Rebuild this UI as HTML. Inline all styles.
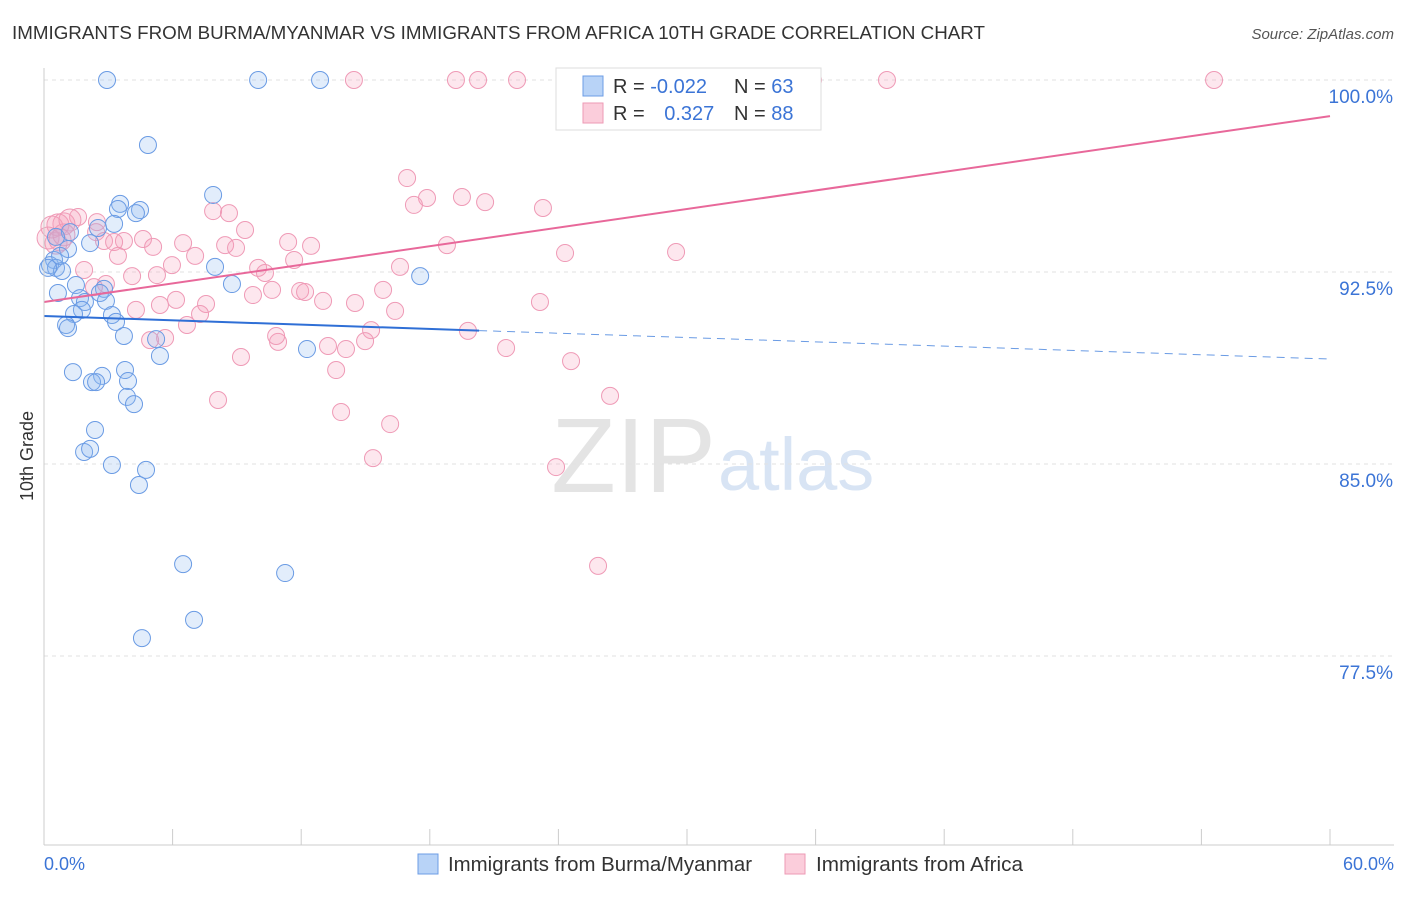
<!DOCTYPE html>
<html><head><meta charset="utf-8"><style>
body{margin:0;background:#fff;font-family:"Liberation Sans",sans-serif;}
svg text{font-family:"Liberation Sans",sans-serif;}
</style></head><body>
<svg id="c" width="1406" height="892" viewBox="0 0 1406 892">
<text x="12" y="39" font-size="18" fill="#333" textLength="973" lengthAdjust="spacingAndGlyphs">IMMIGRANTS FROM BURMA/MYANMAR VS IMMIGRANTS FROM AFRICA 10TH GRADE CORRELATION CHART</text>
<text x="1394" y="39" font-size="15" fill="#555" text-anchor="end" font-style="italic">Source: ZipAtlas.com</text>
<text x="716" y="492" font-size="106" fill="#e4e4e4" text-anchor="end" font-family="Liberation Serif">ZIP</text>
<text x="718" y="490" font-size="74" fill="#d8e4f4">atlas</text>
<g id="grid"></g><g id="pts"></g><g id="lines"></g>
<line x1="44" y1="68" x2="44" y2="845" stroke="#ccc"/>
<line x1="44" y1="845" x2="1394" y2="845" stroke="#ccc"/>
<text x="33" y="456" font-size="18" fill="#333" transform="rotate(-90 33 456)" text-anchor="middle">10th Grade</text>
<text x="44" y="870" font-size="18" fill="#3b74d6">0.0%</text>
<text x="1394" y="870" font-size="18" fill="#3b74d6" text-anchor="end">60.0%</text>
<g>
<rect x="556" y="68" width="265" height="62" fill="#fff" stroke="#ddd"/>
<rect x="583" y="76" width="20" height="20" fill="#b8d3f7" stroke="#6c9de6"/>
<rect x="583" y="103" width="20" height="20" fill="#fbcddb" stroke="#ee9ab5"/>
<text x="613" y="93" font-size="20" fill="#333">R = <tspan fill="#3b74d6">-0.022</tspan></text>
<text x="734" y="93" font-size="20" fill="#333">N = <tspan fill="#3b74d6">63</tspan></text>
<text x="613" y="120" font-size="20" fill="#333">R = <tspan fill="#3b74d6" dx="14">0.327</tspan></text>
<text x="734" y="120" font-size="20" fill="#333">N = <tspan fill="#3b74d6">88</tspan></text>
</g>
<g>
<rect x="418" y="854" width="20" height="20" fill="#b8d3f7" stroke="#6c9de6"/>
<text x="448" y="871" font-size="20" fill="#333" textLength="304" lengthAdjust="spacingAndGlyphs">Immigrants from Burma/Myanmar</text>
<rect x="785" y="854" width="20" height="20" fill="#fbcddb" stroke="#ee9ab5"/>
<text x="816" y="871" font-size="20" fill="#333" textLength="207" lengthAdjust="spacingAndGlyphs">Immigrants from Africa</text>
</g>
</svg>
<script>
const yTicks=[100,92.5,85,77.5];
const yTickLabels=["100.0%","92.5%","85.0%","77.5%"];
const xTicks=[0,6,12,18,24,30,36,42,48,54,60];
const blueX=[2.94,9.99,12.88,4.85,7.89,3.55,3.45,4.48,4.29,3.27,2.52,1.21,0.56,2.15,1.12,0.47,0.28,0.56,0.84,7.98,17.55,8.77,1.49,0.65,2.8,2.61,1.68,2.89,1.91,1.77,1.4,3.17,3.36,1.03,1.12,3.73,5.23,5.41,12.27,1.35,3.78,2.71,3.92,2.24,2.43,3.87,4.2,2.38,1.87,2.15,3.17,4.76,4.43,6.49,11.25,7.0,4.57,0.19,0.75];
const blueY=[100,100,100,97.46,95.51,95.16,94.96,94.92,94.8,94.38,94.22,94.06,93.87,93.63,93.4,92.97,92.77,92.66,92.54,92.7,92.34,92.03,91.99,91.68,91.84,91.68,91.48,91.37,91.33,91.02,90.86,90.82,90.55,90.43,90.31,90.0,89.88,89.22,89.49,88.59,88.67,88.44,88.24,88.2,88.2,87.62,87.34,86.33,85.47,85.59,84.96,84.77,84.18,81.09,80.74,78.91,78.2,92.66,93.13];
const pinkX=[14.46,19.22,20.25,22.07,24.78,35.88,39.33,54.59,16.94,19.5,17.87,20.58,17.26,23.28,7.89,8.63,2.47,1.59,0.93,0.37,9.38,2.43,0.56,2.8,3.73,3.27,4.62,6.49,5.09,8.45,8.96,11.39,12.46,18.8,24.31,29.49,3.45,7.05,5.97,9.99,10.31,16.61,11.67,1.87,4.11,5.27,2.89,2.33,11.95,12.18,10.64,9.75,15.82,6.16,13.02,14.51,23.14,5.41,7.56,16.38,4.29,7.28,6.67,4.95,5.65,10.92,10.83,19.78,15.26,13.25,14.09,14.98,21.56,24.59,9.19,13.63,8.12,26.41,13.86,16.15,15.35,23.89,25.85,0.65,1.21,0.19,0.75,0.93];
const pinkY=[100,100,100,100,100,100,100,100,96.17,95.43,95.39,95.23,95.12,95.0,94.88,94.8,94.45,94.65,94.38,94.26,94.14,94.06,93.63,93.71,93.71,93.67,93.79,93.63,93.48,93.55,93.44,93.67,93.52,93.55,93.24,93.28,93.13,93.13,92.77,92.66,92.46,92.7,92.97,92.58,92.34,92.38,92.03,91.91,91.76,91.72,91.8,91.6,91.8,91.41,91.37,91.29,91.33,91.21,91.25,90.98,91.02,90.86,90.43,89.84,89.92,89.77,90.0,90.2,90.23,89.61,89.49,89.8,89.53,89.02,89.18,88.67,87.5,87.66,87.03,86.56,85.23,84.88,81.02,94.34,94.53,93.83,93.75,93.95];
const blueTrend=[90.78,89.1];
const pinkTrend=[91.33,98.59];
const NS="http://www.w3.org/2000/svg";
const xs=v=>44+v/60*1286, ys=v=>80+(100-v)*25.6;
function mk(t,a,p){const e=document.createElementNS(NS,t);for(const k in a)e.setAttribute(k,a[k]);p.appendChild(e);return e;}
const grid=document.getElementById('grid');
yTicks.forEach((t,i)=>{
 const l=mk('line',{x1:44,x2:1394,y1:ys(t),y2:ys(t),stroke:'#e2e2e2','stroke-dasharray':'4 4'},grid);
 
 
 const tx=mk('text',{x:1393,y:ys(t)+23,'font-size':19,fill:'#3b74d6','text-anchor':'end'},grid);
 tx.textContent=yTickLabels[i];
 
 
});
xTicks.forEach(t=>{
 const l=mk('line',{x1:xs(t),x2:xs(t),y1:829,y2:845,stroke:'#ccc'},grid);
 
 
});
const pts=document.getElementById('pts');
pinkX.forEach((x,i)=>{
 const c=mk('circle',{cx:xs(x),cy:ys(pinkY[i]),r:x<1.5?11:8.5,fill:'rgba(246,160,188,0.25)',stroke:'#ef9ab6','stroke-width':1},pts);
 
 
});
blueX.forEach((x,i)=>{
 const c=mk('circle',{cx:xs(x),cy:ys(blueY[i]),r:8.5,fill:'rgba(140,182,240,0.25)',stroke:'#6a9be4','stroke-width':1},pts);
 
 
});
const lines=document.getElementById('lines');
const by=x=>blueTrend[0]+(blueTrend[1]-blueTrend[0])*x/60;
let l1=mk('line',{x1:xs(0),y1:ys(by(0)),x2:xs(20.3),y2:ys(by(20.3)),stroke:'#2f6fd6','stroke-width':2},lines);


let l2=mk('line',{x1:xs(20.3),y1:ys(by(20.3)),x2:xs(60),y2:ys(by(60)),stroke:'#6a9be4','stroke-width':1,'stroke-dasharray':'8 6'},lines);


let l3=mk('line',{x1:xs(0),y1:ys(pinkTrend[0]),x2:xs(60),y2:ys(pinkTrend[1]),stroke:'#e8689a','stroke-width':2},lines);


</script>
</body></html>
